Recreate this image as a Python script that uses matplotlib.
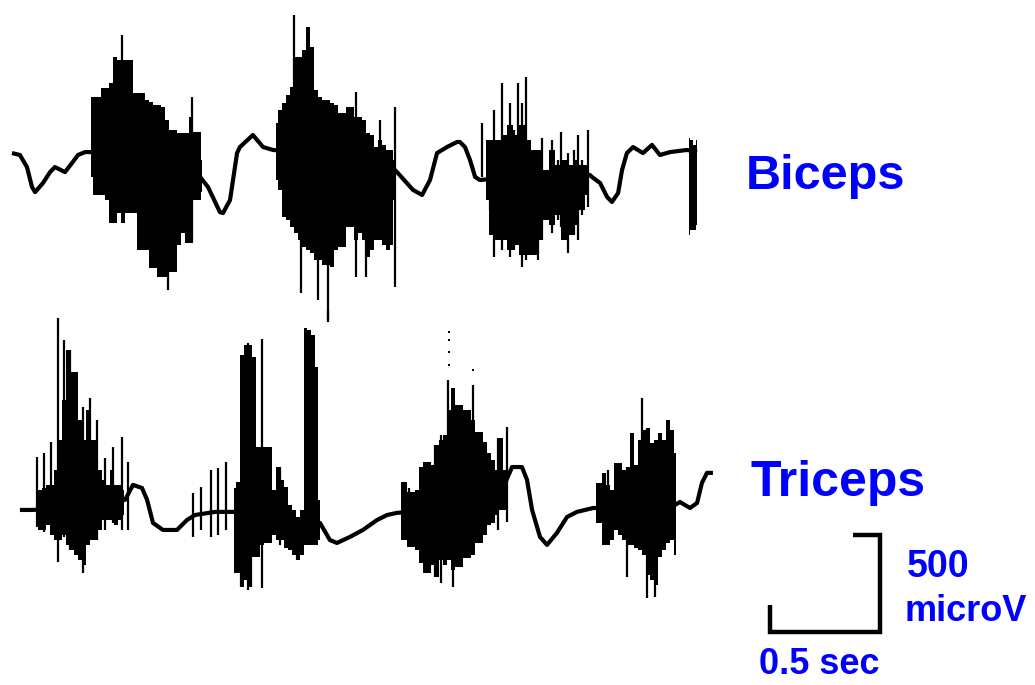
import numpy as np
import matplotlib
matplotlib.use('Agg')
import matplotlib.pyplot as plt

plt.rcParams['font.family'] = ['Liberation Sans', 'DejaVu Sans']

# ---- biceps (time in s, amplitude in microV) ----
# slow movement artefact under the EMG
BIC_WAVE_T = [0.000, 0.036, 0.068, 0.091, 0.105, 0.141, 0.173, 0.195, 0.241, 0.273,
              0.300, 0.332, 0.364, 0.605, 0.809, 0.855, 0.891, 0.945, 0.959, 0.991,
              1.023, 1.036, 1.095, 1.141, 1.186, 1.445, 1.718, 1.750, 1.823, 1.864,
              1.900, 1.932, 1.977, 2.023, 2.036, 2.059, 2.082, 2.105, 2.127, 2.355,
              2.627, 2.636, 2.673, 2.705, 2.727, 2.755, 2.773, 2.795, 2.823, 2.868,
              2.909, 2.945, 2.991, 3.068, 3.114]
BIC_WAVE_V = [10, 0, -62, -165, -191, -144, -88, -62, -88, -41,
              0, 15, 15, 0, -26, -113, -165, -294, -299, -232,
              10, 41, 103, 41, 26, 0, -52, -88, -180, -206,
              -129, 10, 41, 67, 67, 41, -26, -113, -129, -103,
              -103, -113, -144, -216, -242, -196, -77, 10, 41, 10,
              52, 0, 15, 26, 15]

# dense part of each burst (one list per burst)
BIC_COL_T = [
    [0.359, 0.377, 0.395, 0.414, 0.432, 0.450, 0.468, 0.486, 0.505, 0.523,
     0.541, 0.559, 0.577, 0.595, 0.614, 0.632, 0.650, 0.668, 0.686, 0.705,
     0.723, 0.741, 0.759, 0.777, 0.795, 0.814, 0.832, 0.850, 0.864],
    [1.200, 1.218, 1.236, 1.255, 1.273, 1.291, 1.309, 1.327, 1.345, 1.364,
     1.382, 1.400, 1.418, 1.436, 1.455, 1.473, 1.491, 1.509, 1.527, 1.545,
     1.564, 1.582, 1.600, 1.618, 1.636, 1.655, 1.673, 1.691, 1.709, 1.727, 1.741],
    [2.155, 2.182, 2.209, 2.236, 2.264, 2.291, 2.318, 2.345, 2.373, 2.400,
     2.427, 2.455, 2.482, 2.509, 2.536, 2.564, 2.591, 2.618],
    [3.077, 3.089, 3.100, 3.114],
]
BIC_COL_HI = [
    [299, 299, 299, 345, 345, 371, 505, 489, 489, 489,
     489, 319, 319, 319, 283, 273, 258, 258, 247, 180,
     129, 129, 113, 113, 113, 196, 118, 118, -26],
    [165, 232, 268, 309, 350, 505, 505, 541, 659, 556,
     335, 299, 283, 283, 268, 258, 216, 216, 247, 247,
     196, 196, 180, 113, 103, 41, 77, 52, 26, 26, -26],
    [77, 77, 77, 103, 155, 103, 155, 77, 26, 26,
     -77, 26, -52, -26, -52, -26, -52, -52],
    [88, 77, 52, 77],
]
BIC_COL_LO = [
    [-113, -206, -206, -206, -232, -350, -350, -299, -350, -299,
     -299, -299, -489, -489, -489, -582, -582, -628, -628, -628,
     -603, -603, -463, -402, -453, -453, -232, -232, -191],
    [-129, -180, -319, -335, -371, -402, -438, -474, -489, -505,
     -541, -541, -567, -567, -577, -489, -474, -474, -371, -371,
     -438, -402, -438, -525, -489, -438, -438, -463, -489, -463, -232],
    [-232, -412, -438, -438, -489, -463, -515, -515, -515, -438,
     -335, -360, -309, -438, -412, -360, -283, -206],
    [-412, -386, -386, -360],
]

# single motor-unit spikes
BIC_SPK_T = [0.500, 0.709, 0.818, 1.282, 1.314, 1.391, 1.436, 1.564, 1.609, 1.673,
             1.741, 2.136, 2.191, 2.227, 2.264, 2.300, 2.318, 2.336, 2.455, 2.495,
             2.527, 2.573, 2.618, 2.173, 2.245, 2.282, 2.391, 2.409, 2.482, 2.555, 2.591]
BIC_SPK_HI = [618, 26, 299, 721, 26, 26, 26, 325, 26, 180,
              247, 165, 232, 371, 268, 371, 268, 402, 77, 118,
              10, 103, 129, 77, 77, 129, 26, 88, -26, 26, -26]
BIC_SPK_LO = [26, -695, -453, 283, -711, -747, -850, -628, -628, -438,
              -680, -113, -525, -489, -525, -453, -577, -541, -402, -371,
              -505, -438, -268, -283, -402, -489, -541, -438, -335, -412, -309]

# ---- triceps ----
TRI_WAVE_T = [0.036, 0.095, 0.400, 0.514, 0.550, 0.591, 0.614, 0.641, 0.686, 0.750,
              0.795, 0.832, 0.923, 1.005, 1.127, 1.309, 1.400, 1.445, 1.477, 1.536,
              1.595, 1.659, 1.705, 1.750, 1.945, 2.218, 2.273, 2.318, 2.341, 2.364,
              2.400, 2.432, 2.477, 2.523, 2.568, 2.641, 2.855, 3.014, 3.036, 3.082,
              3.114, 3.136, 3.159, 3.186]
TRI_WAVE_V = [0, 0, 26, 52, 129, 113, 52, -67, -103, -103,
              -52, -26, -10, -10, -26, -52, -67, -155, -170, -139,
              -103, -52, -26, -15, 0, 77, 221, 221, 155, 0,
              -139, -180, -118, -36, -10, 10, 10, 26, 41, 10,
              36, 139, 191, 191]

TRI_COL_T = [
    [0.109, 0.127, 0.145, 0.164, 0.182, 0.200, 0.218, 0.236, 0.255, 0.273,
     0.291, 0.309, 0.327, 0.345, 0.364, 0.382, 0.400, 0.418, 0.436, 0.455,
     0.473, 0.491, 0.509],
    [1.009, 1.027, 1.045, 1.064, 1.082, 1.100, 1.118, 1.136, 1.155, 1.173,
     1.191, 1.209, 1.227, 1.245, 1.264, 1.282, 1.300, 1.318, 1.332, 1.350,
     1.368, 1.386, 1.400],
    [1.768, 1.786, 1.805, 1.823, 1.841, 1.859, 1.877, 1.895, 1.914, 1.932,
     1.950, 1.968, 1.986, 2.005, 2.023, 2.041, 2.059, 2.077, 2.095, 2.114,
     2.132, 2.150, 2.168, 2.186, 2.205, 2.223, 2.241, 2.255],
    [2.655, 2.673, 2.691, 2.709, 2.727, 2.745, 2.764, 2.782, 2.800, 2.818,
     2.836, 2.855, 2.873, 2.891, 2.909, 2.927, 2.945, 2.964, 2.982, 3.000, 3.018],
]
TRI_COL_HI = [
    [77, 103, 113, 129, 129, 206, 360, 566, 824, 711,
     711, 463, 360, 515, 360, 360, 206, 155, 129, 206,
     129, 129, 103],
    [113, 144, 798, 850, 850, 788, 324, 324, 324, 324,
     103, 221, 155, 118, 26, 0, -36, 0, 937, 927,
     901, 737, 52],
    [144, 144, 93, 93, 103, 221, 247, 247, 232, 335,
     360, 386, 515, 628, 541, 541, 515, 515, 463, 402,
     402, 350, 294, 258, 206, 371, 206, 427],
    [139, 139, 191, 129, 103, 242, 242, 206, 221, 397,
     232, 360, 412, 422, 345, 360, 397, 360, 463, 412, 294],
]
TRI_COL_LO = [
    [-77, -103, -103, -77, -129, -155, -155, -129, -180, -206,
     -232, -258, -283, -180, -155, -155, -103, -52, -52, -52,
     -77, -52, -26],
    [-324, -324, -397, -360, -397, -242, -242, -180, -170, -170,
     -129, -155, -155, -196, -206, -232, -258, -232, -180, -180,
     -180, -180, -155],
    [-155, -155, -191, -191, -206, -273, -324, -324, -283, -345,
     -258, -283, -258, -309, -293, -293, -247, -247, -232, -170,
     -170, -129, -77, -67, -26, 0, 0, 0],
    [-67, -67, -180, -180, -155, -103, -129, -155, -180, -180,
     -196, -206, -232, -335, -360, -386, -242, -206, -170, -155, -232],
]

TRI_SPK_T = [0.114, 0.145, 0.177, 0.209, 0.236, 0.264, 0.323, 0.355, 0.386, 0.423,
             0.459, 0.500, 0.527, 0.823, 0.859, 0.905, 0.936, 0.973, 1.041, 1.073,
             1.086, 1.136, 1.218, 1.295, 1.436, 1.805, 1.923, 1.950, 1.982, 2.005,
             2.095, 2.209, 2.250, 2.709, 2.795, 2.864, 2.886, 2.923]
TRI_SPK_HI = [273, 294, 350, 989, 876, 824, 530, 577, 463, 268,
              324, 376, 247, 88, 118, 206, 216, 247, 0, 860,
              0, 881, 221, -36, 1030, 113, 335, 386, 669, 628,
              644, 371, 427, 206, 221, 577, 422, 345]
TRI_SPK_LO = [-88, -113, -67, -268, -139, -206, -324, -52, -155, -103,
              -67, -103, -103, -139, -103, -139, -129, -103, -397, -412,
              -397, -402, -180, -258, 968, -191, -345, -376, -103, -397,
              155, -103, -62, -180, -345, -170, -453, -448]

# isolated samples above the third triceps burst
TRI_DOT_T = [1.986, 1.986, 1.986, 1.986, 2.095]
TRI_DOT_V = [917, 876, 814, 747, 721]

TRI_SHIFT = 1828      # triceps trace drawn this far below biceps (microV)
BAR_T, BAR_S = 0.5, 500   # calibration bar: sec, microV

PX_PER_S = 220
UV_PER_PX = 5.15


def draw_trace(ax, wave_t, wave_v, col_t, col_hi, col_lo, spk_t, spk_hi, spk_lo, shift):
    for t, hi, lo in zip(col_t, col_hi, col_lo):
        ax.fill_between(t, np.array(lo) - shift, np.array(hi) - shift,
                        step='mid', color='k', lw=0)
    ax.vlines(spk_t, np.array(spk_lo) - shift, np.array(spk_hi) - shift,
              color='k', lw=1.6)
    ax.plot(wave_t, np.array(wave_v) - shift, color='k', lw=3.0,
            solid_joinstyle='round', solid_capstyle='butt')


fig = plt.figure(figsize=(10.35, 6.85), dpi=100)
ax = fig.add_axes([0, 0, 1, 1])
ax.set_xlim(-12 / PX_PER_S, (1035 - 12) / PX_PER_S)
ax.set_ylim(-(685 - 155) * UV_PER_PX, 155 * UV_PER_PX)
ax.axis('off')

draw_trace(ax, BIC_WAVE_T, BIC_WAVE_V, BIC_COL_T, BIC_COL_HI, BIC_COL_LO,
           BIC_SPK_T, BIC_SPK_HI, BIC_SPK_LO, 0)
draw_trace(ax, TRI_WAVE_T, TRI_WAVE_V, TRI_COL_T, TRI_COL_HI, TRI_COL_LO,
           TRI_SPK_T, TRI_SPK_HI, TRI_SPK_LO, TRI_SHIFT)
ax.plot(TRI_DOT_T, np.array(TRI_DOT_V) - TRI_SHIFT, 's', color='k', ms=1.6, mew=0)

# calibration bar
t0, v0 = 3.445, -2457
ax.plot([t0, t0, t0 + BAR_T, t0 + BAR_T, t0 + BAR_T - 0.12],
        [v0 + 140, v0, v0, v0 + BAR_S, v0 + BAR_S],
        color='k', lw=3.2, solid_joinstyle='miter', solid_capstyle='butt')

blue = '#0000ff'
fig.text(0.721, 0.724, 'Biceps', color=blue, fontsize=35, fontweight='bold', va='baseline')
fig.text(0.725, 0.276, 'Triceps', color=blue, fontsize=36, fontweight='bold', va='baseline')
fig.text(0.876, 0.158, '500', color=blue, fontsize=27, fontweight='bold', va='baseline')
fig.text(0.874, 0.093, 'microV', color=blue, fontsize=26, fontweight='bold', va='baseline')
fig.text(0.733, 0.016, '0.5 sec', color=blue, fontsize=26, fontweight='bold', va='baseline')

fig.savefig('out.png', dpi=100)
